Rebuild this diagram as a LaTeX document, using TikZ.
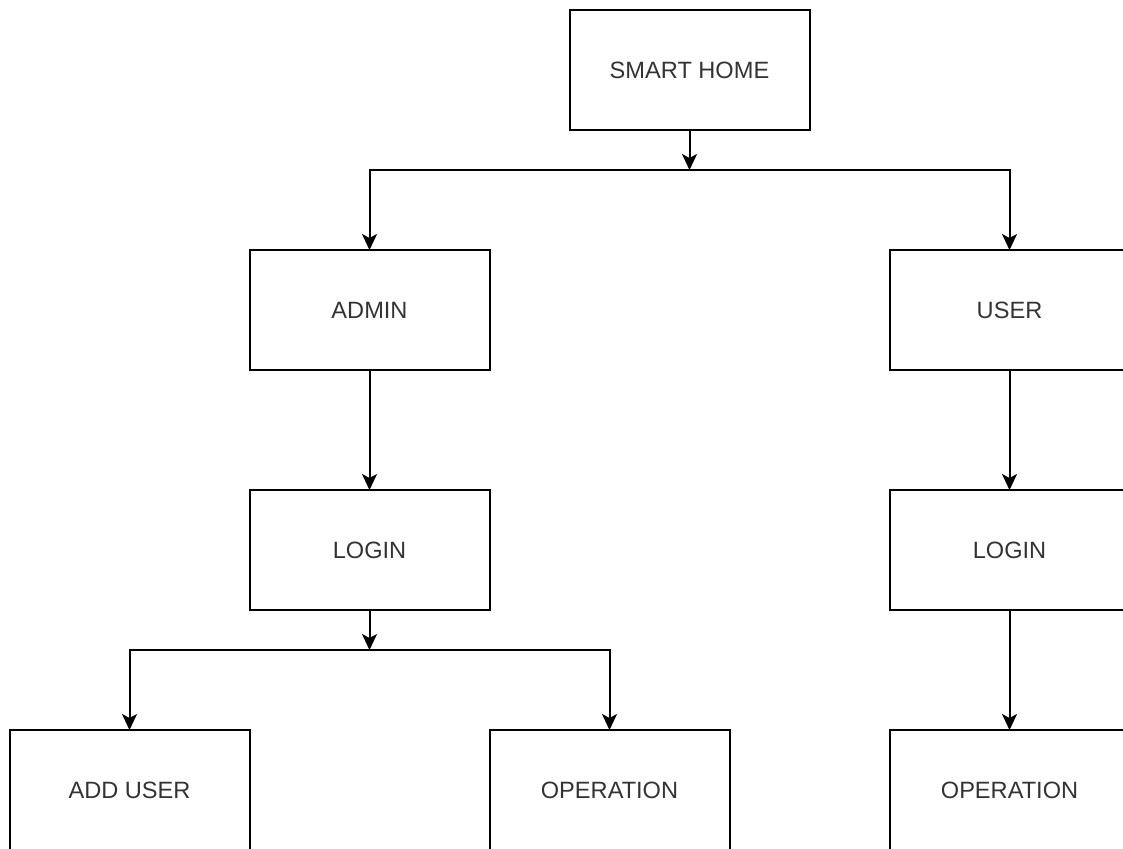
\documentclass[tikz,border=0pt]{standalone}
\usepackage{fontspec}
\setmainfont{Liberation Sans}
\usetikzlibrary{arrows.meta,positioning}
\tikzstyle{box}=[rectangle,draw,line width=1pt,outer sep=0pt,minimum width=120pt,minimum height=60pt,align=center,text=black!80,font=\fontsize{11.8pt}{13pt}\selectfont]
\tikzstyle{arr}=[-{Stealth[length=8pt,width=7.5pt,inset=2pt]},line width=1pt]

\begin{document}
\begin{tikzpicture}
\path[use as bounding box] (0,0) rectangle (561.5pt,-424pt);
\clip (0,0) rectangle (561.5pt,-424pt);
\node[box] (home) at (344.75pt,-35pt) {SMART HOME};
\node[box, below left=60pt and 40pt of home] (admin) {ADMIN};
\node[box, below right=60pt and 40pt of home] (user) {USER};
\node[box, below=60pt of admin] (alogin) {LOGIN};
\node[box, below=60pt of user] (ulogin) {LOGIN};
\node[box, below left=60pt and 0pt of alogin] (adduser) {ADD USER};
\node[box, below right=60pt and 0pt of alogin] (aop) {OPERATION};
\node[box, below=60pt of ulogin] (uop) {OPERATION};
\coordinate[below=20pt of home] (j1);
\coordinate[below=20pt of alogin] (j2);
\draw[arr] (home) -- (j1);
\draw[arr] (j1) -| (admin);
\draw[arr] (j1) -| (user);
\draw[arr] (admin) -- (alogin);
\draw[arr] (user) -- (ulogin);
\draw[arr] (alogin) -- (j2);
\draw[arr] (j2) -| (adduser);
\draw[arr] (j2) -| (aop);
\draw[arr] (ulogin) -- (uop);
\end{tikzpicture}
\end{document}
